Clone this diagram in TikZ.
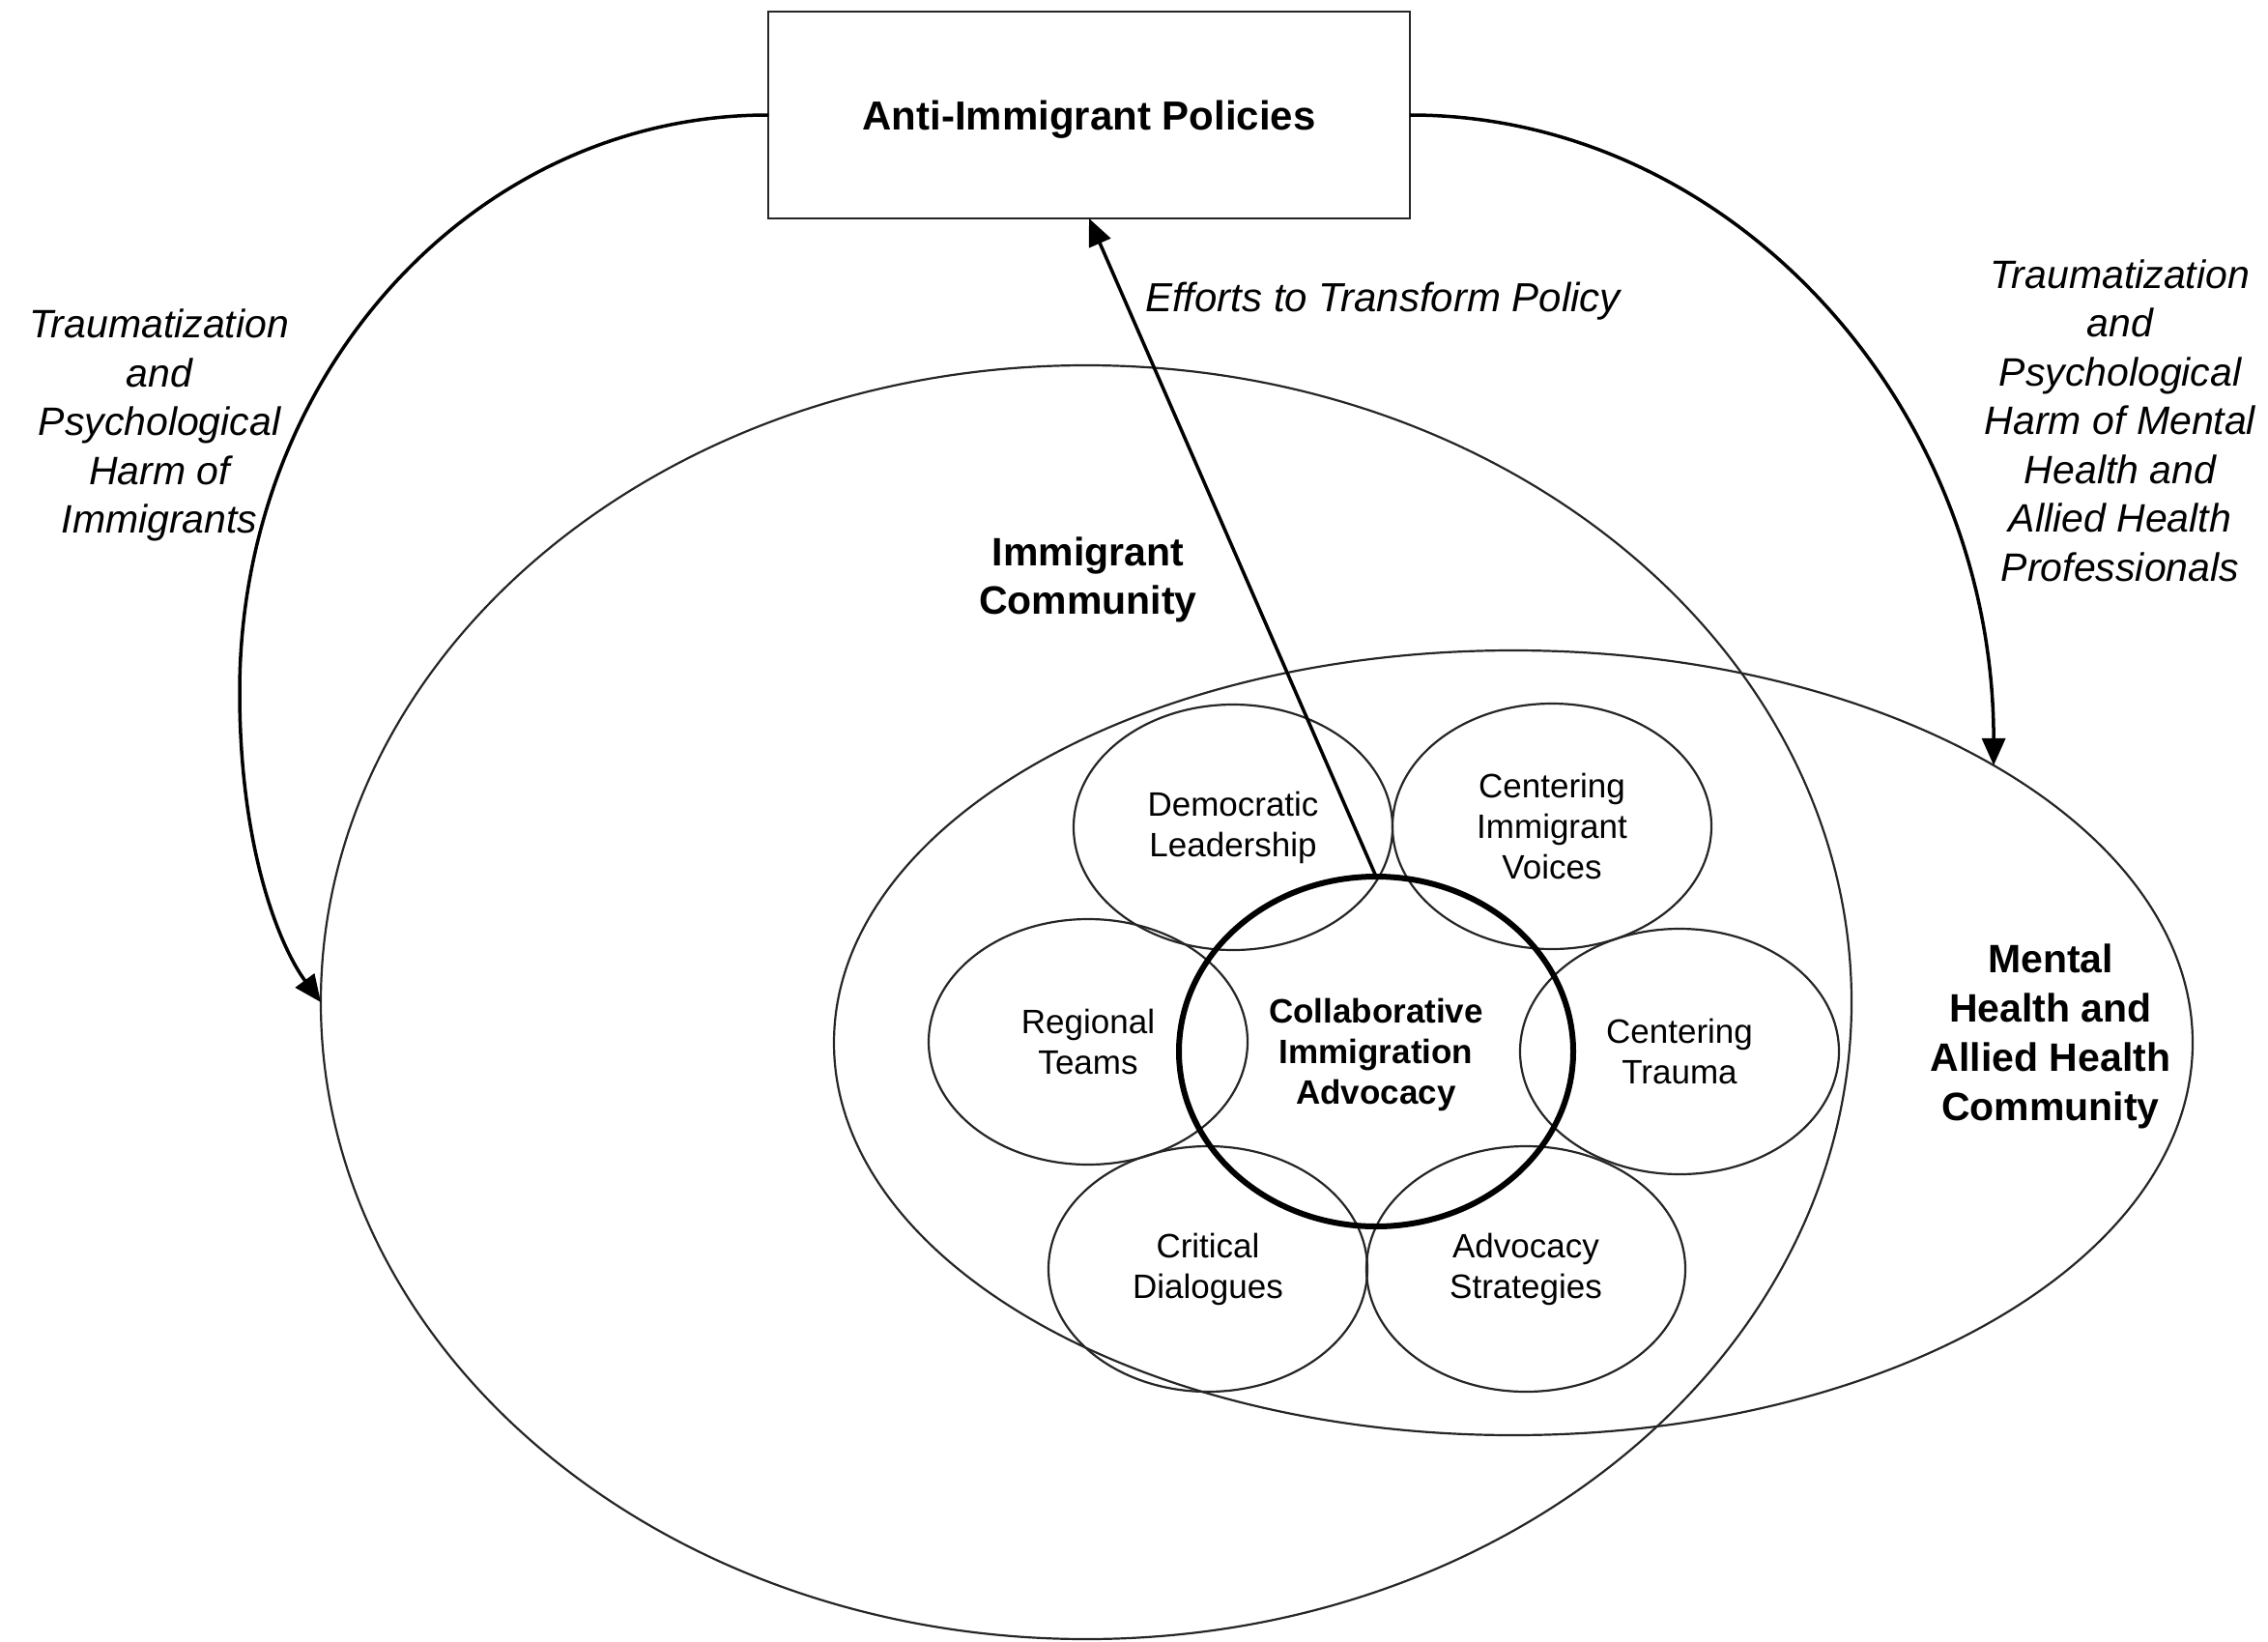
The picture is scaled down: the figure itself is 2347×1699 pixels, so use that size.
\documentclass[tikz,border=0pt]{standalone}
\usepackage{fontspec}
\setmainfont{Liberation Sans}
\usetikzlibrary{shapes.geometric, arrows.meta}
\begin{document}
\begin{tikzpicture}[x=1pt,y=-1pt,
  ln/.style={draw=black!85, line width=2.2pt},
  oval/.style={ellipse, ln, inner sep=0pt, outer sep=0pt},
  sub/.style={oval, minimum width=330pt, minimum height=254pt, align=center, font=\fontsize{35}{42}\selectfont},
  arr/.style={draw=black, line width=3.5pt, -{Triangle[length=28pt,width=24pt]}},
  lbl/.style={align=center, inner sep=0pt, font=\fontsize{41}{50.5}\selectfont\itshape},
  blbl/.style={align=center, inner sep=0pt, font=\fontsize{41}{50}\selectfont\bfseries},
]
\useasboundingbox (0,0) rectangle (2347,1699);

% large regions
\node[oval, minimum width=1584pt, minimum height=1318pt] (imm) at (1124,1037) {};
\node[oval, minimum width=1406pt, minimum height=812pt] (mh) at (1566,1079) {};

% component ellipses
\node[sub] (dl) at (1276,856) {Democratic\\Leadership};
\node[sub] (civ) at (1606,855) {Centering\\Immigrant\\Voices};
\node[sub] (rt) at (1126,1078) {Regional\\Teams};
\node[sub] (ct) at (1738,1088) {Centering\\Trauma};
\node[sub] (cd) at (1250,1313) {Critical\\Dialogues};
\node[sub] (as) at (1579,1313) {Advocacy\\Strategies};

% central circle
\node[oval, draw=black, line width=6pt, minimum width=408pt, minimum height=362pt, align=center, text depth=0pt,
  font=\fontsize{35}{42}\selectfont\bfseries] (cia) at (1424,1088) {Collaborative\\Immigration\\Advocacy};

% policy box
\node[draw=black!85, line width=2.5pt, minimum width=664pt, minimum height=214pt, inner sep=0pt, outer sep=0pt,
  text depth=0pt, font=\fontsize{42}{49}\selectfont\bfseries] (box) at (1127,119) {Anti-Immigrant Policies};

% labels
\node[lbl, anchor=west, font=\fontsize{42}{50}\selectfont\itshape] (eff) at (1185,312) {Efforts to Transform Policy};
\node[lbl] (lh) at (165,440) {Traumatization\\and\\Psychological\\Harm of\\Immigrants};
\node[lbl] (rh) at (2194,435) {Traumatization\\and\\Psychological\\Harm of Mental\\Health and\\Allied Health\\Professionals};
\node[blbl] (imml) at (1126,600) {Immigrant\\Community};
\node[blbl, font=\fontsize{41}{51}\selectfont\bfseries] (mhl) at (2122,1072) {Mental\\Health and\\Allied Health\\Community};

% connectors
\draw[arr] (cia.north) -- (box.south);
\coordinate (lmid) at (248,716);
\draw[arr] (box.west) .. controls (492,119) and (248,385) .. (lmid)
  .. controls (248,880) and (290,980) .. (imm.west);
\draw[arr] (box.east) .. controls (1793,119) and (2063,421) .. (mh.north east);
\end{tikzpicture}
\end{document}
